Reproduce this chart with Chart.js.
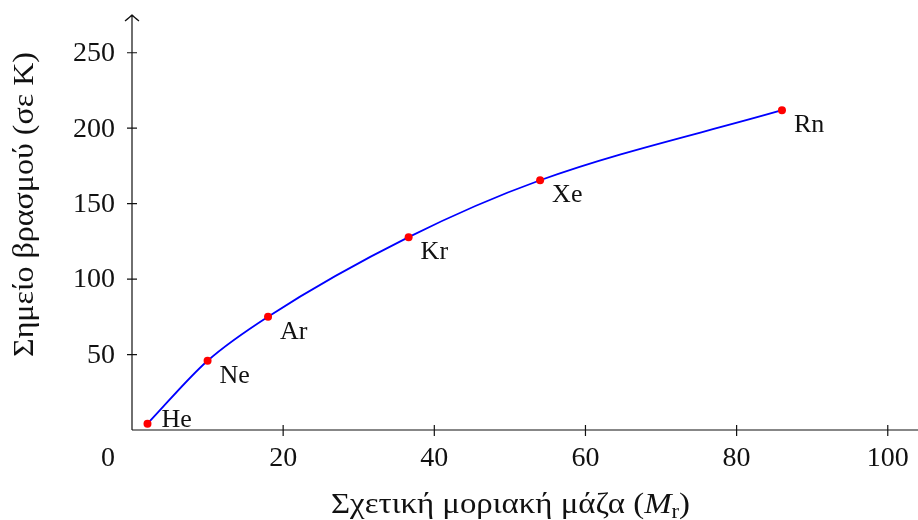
<!DOCTYPE html>
<html>
<head>
<meta charset="utf-8">
<script src="https://cdn.jsdelivr.net/npm/chart.js@4.4.1/dist/chart.umd.min.js"></script>
<style>
  html, body { margin: 0; padding: 0; background: #fff; }
  #wrap { width: 918px; height: 520px; }
</style>
</head>
<body>
<div id="wrap"><canvas id="bp" width="918" height="520"></canvas></div>
<script>
    const elements = ['He', 'Ne', 'Ar', 'Kr', 'Xe', 'Rn'];
    const relMass = [2.05, 10.0, 18.0, 36.6, 54.0, 86.0];
    const boilingK = [4.2, 45.9, 75.1, 127.8, 165.5, 211.9];
    const xTicks = [0, 20, 40, 60, 80, 100];
    const yTicks = [50, 100, 150, 200, 250];
    const xTitle = 'Σχετική μοριακή μάζα (';
    const yTitle = 'Σημείο βρασμού (σε K)';
    // where each element name sits relative to its point
    const labelPlacement = ['right', 'below right', 'below right', 'below right', 'below right', 'below right'];

    const FONT = '"Liberation Serif", "DejaVu Serif", serif';
    const INK = '#111';

    // draw text squeezed/stretched to a given width (Libertine is wider than Liberation)
    function fitText(ctx, parts, x, y, width) {
        let total = 0;
        parts.forEach(p => { ctx.font = p.font; p.w = ctx.measureText(p.text).width; total += p.w; });
        const k = width / total;
        ctx.save();
        ctx.translate(x, y);
        ctx.scale(k, 1);
        let cx = 0;
        parts.forEach(p => {
            ctx.font = p.font;
            ctx.fillText(p.text, cx, p.dy || 0);
            cx += p.w;
        });
        ctx.restore();
    }

    const axesPlugin = {
        id: 'pgfAxes',
        beforeDatasetsDraw(chart) {
            const { ctx, chartArea } = chart;
            const xs = chart.scales.x;
            const ys = chart.scales.y;
            const x0 = xs.getPixelForValue(0);
            const y0 = ys.getPixelForValue(0);
            ctx.save();
            ctx.strokeStyle = INK;
            ctx.lineWidth = 1.2;
            ctx.beginPath();
            ctx.moveTo(x0, y0);
            ctx.lineTo(chart.width, y0);
            ctx.moveTo(x0, y0);
            ctx.lineTo(x0, chartArea.top);
            ctx.moveTo(x0 - 7, chartArea.top + 6);
            ctx.quadraticCurveTo(x0 - 2, chartArea.top + 2, x0, chartArea.top);
            ctx.quadraticCurveTo(x0 + 2, chartArea.top + 2, x0 + 7, chartArea.top + 6);
            xTicks.forEach(v => {
                if (v === 0) return;
                const px = xs.getPixelForValue(v);
                ctx.moveTo(px, y0 - 5);
                ctx.lineTo(px, y0 + 6);
            });
            yTicks.forEach(v => {
                const py = ys.getPixelForValue(v);
                ctx.moveTo(x0 - 5, py);
                ctx.lineTo(x0 + 5, py);
            });
            ctx.stroke();

            ctx.fillStyle = INK;
            ctx.font = '28px ' + FONT;
            ctx.textAlign = 'center';
            ctx.textBaseline = 'middle';
            xTicks.forEach(v => {
                const px = xs.getPixelForValue(v) - (v === 0 ? 24 : 0);
                ctx.fillText(String(v), px, y0 + 29);
            });
            ctx.textAlign = 'right';
            yTicks.forEach(v => {
                ctx.fillText(String(v), x0 - 17, ys.getPixelForValue(v) + 1);
            });

            ctx.textBaseline = 'alphabetic';
            ctx.textAlign = 'left';
            const fNormal = '29px ' + FONT;
            fitText(ctx, [
                { text: xTitle, font: fNormal },
                { text: 'M', font: 'italic 29px ' + FONT },
                { text: 'r', font: '20px ' + FONT, dy: 5 },
                { text: ')', font: fNormal }
            ], 331, 513, 359);

            ctx.save();
            ctx.translate(33, 357);
            ctx.rotate(-Math.PI / 2);
            fitText(ctx, [{ text: yTitle, font: fNormal }], 0, 0, 305);
            ctx.restore();
            ctx.restore();
        },
        afterDatasetsDraw(chart) {
            const { ctx } = chart;
            const meta = chart.getDatasetMeta(0);
            ctx.save();
            ctx.fillStyle = INK;
            ctx.font = '26px ' + FONT;
            ctx.textAlign = 'left';
            ctx.textBaseline = 'alphabetic';
            meta.data.forEach((pt, i) => {
                if (labelPlacement[i] === 'right') {
                    ctx.fillText(elements[i], pt.x + 14, pt.y + 3);
                } else {
                    ctx.fillText(elements[i], pt.x + 12, pt.y + 22);
                }
            });
            ctx.restore();
        }
    };

    new Chart(document.getElementById('bp'), {
        type: 'line',
        data: {
            datasets: [{
                data: relMass.map((m, i) => ({ x: m, y: boilingK[i] })),
                borderColor: '#0000ff',
                borderWidth: 1.8,
                cubicInterpolationMode: 'monotone',
                pointRadius: 4,
                pointBorderWidth: 0,
                pointBackgroundColor: '#ff0000',
                pointHoverRadius: 4,
                fill: false
            }]
        },
        options: {
            responsive: false,
            animation: false,
            events: [],
            layout: { autoPadding: false, padding: { left: 132, right: 0, top: 15, bottom: 90 } },
            plugins: { legend: { display: false }, tooltip: { enabled: false } },
            scales: {
                x: {
                    type: 'linear', min: 0, max: 104,
                    grid: { display: false, drawTicks: false },
                    border: { display: false },
                    ticks: { display: false }
                },
                y: {
                    type: 'linear', min: 0, max: 275,
                    grid: { display: false, drawTicks: false },
                    border: { display: false },
                    ticks: { display: false }
                }
            }
        },
        plugins: [axesPlugin]
    });
</script>
</body>
</html>
